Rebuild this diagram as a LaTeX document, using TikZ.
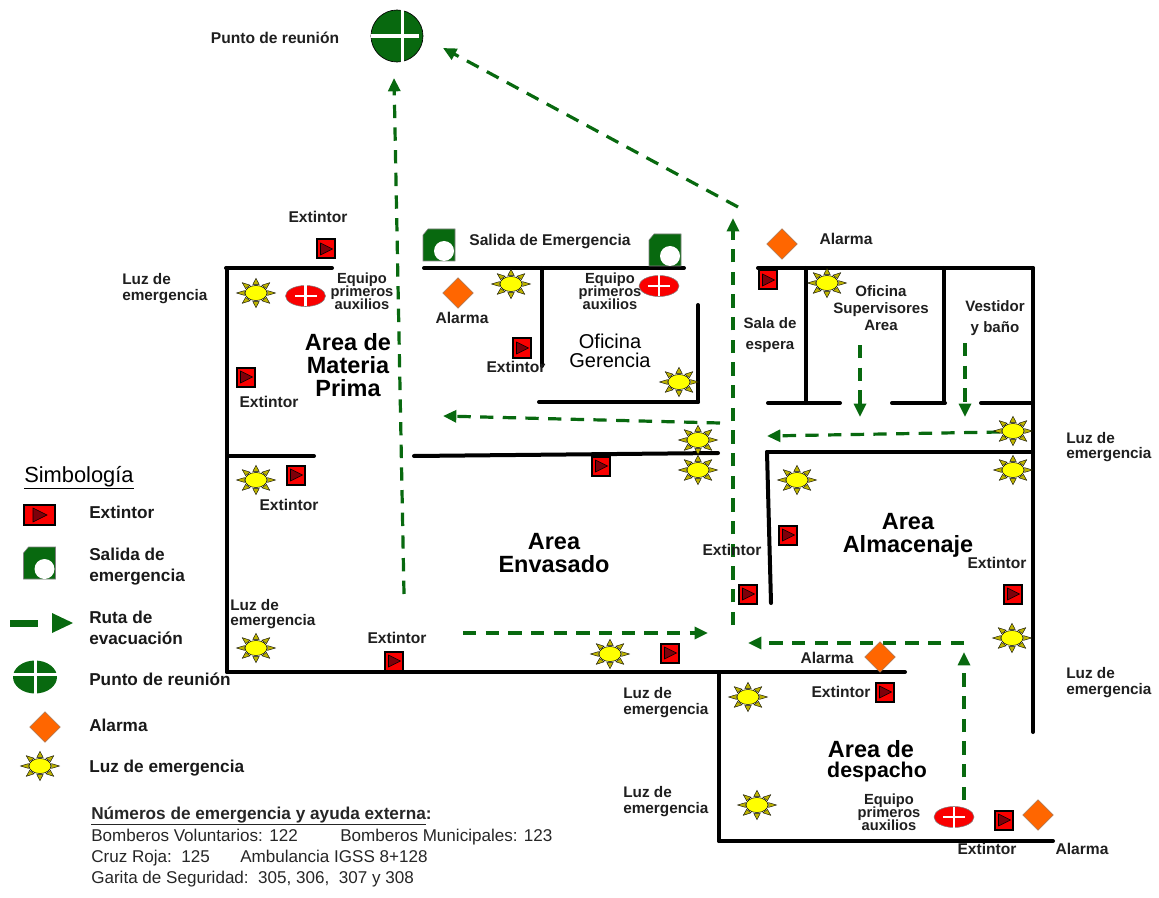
\documentclass[tikz,border=0pt]{standalone}
\usepackage{fontspec}
\setmainfont{Liberation Sans}
\usetikzlibrary{arrows.meta,shapes.geometric}
\definecolor{rg}{RGB}{8,105,15}
\definecolor{rd}{RGB}{250,0,0}
\definecolor{drd}{RGB}{125,0,10}
\definecolor{og}{RGB}{255,102,0}
\definecolor{ye}{RGB}{255,255,0}
\definecolor{ol}{RGB}{190,180,0}
\newcommand{\fsz}[1]{\fontsize{#1}{#1}\selectfont}
\tikzset{
 x=0.75pt,y=-0.75pt,
 wall/.style={line width=3pt,black,line cap=round},
 route/.style={line width=2.4pt,rg,dash pattern=on 10pt off 7pt,-{Triangle[length=10pt,width=9pt]}},
 lab/.style={inner sep=0,align=center,font=\fsz{11.7}\bfseries,text=black!88},
 luz/.style={inner sep=0,anchor=west,align=left,font=\fsz{11.5}\bfseries,text=black!88},
 leg/.style={inner sep=0,align=left,anchor=base west,font=\fsz{12.9}\bfseries,text=black!90},
 area/.style={inner sep=0,align=center,font=\fsz{17.6}\bfseries},
 num/.style={inner sep=0,anchor=base west,font=\fsz{12.8},text=black!85},
 pics/sun/.style={code={
   \begin{scope}[yscale=.75]
   \foreach \a in {0,45,...,315}{
     \fill[ol,draw=black,line width=.3pt,rotate=\a] (11.5,-3.2) -- (19.5,0) -- (11.5,3.2) -- cycle;}
   \end{scope}
   \fill[ye,draw=black,line width=.4pt] (0,0) ellipse (11 and 7.5);
 }},
 pics/ext/.style={code={
   \fill[rd,draw=black,line width=1.5pt] (-9,-9.5) rectangle (9,9.5);
   \fill[drd,draw=black,line width=.4pt] (-5.5,-6) -- (6.5,0) -- (-5.5,6) -- cycle;
 }},
 pics/exit/.style={code={
   \fill[rg,draw=gray,line width=.4pt] (-16,-10) -- (-11,-16) -- (16,-16) -- (16,16) -- (-16,16) -- cycle;
   \fill[white] (5,6) circle (10);
 }},
 alarm/.style={diamond,fill=og,draw=gray!70!og,line width=.3pt,minimum width=23pt,minimum height=23pt,inner sep=0,aspect=1},
 pics/aid/.style={code={
   \fill[rd,draw=gray,line width=.4pt] (0,0) ellipse (20 and 10.5);
   \fill[white] (-11,-1.3) rectangle (11,1.3);
   \fill[white] (-1.3,-10.5) rectangle (1.3,10.5);
 }},
}
\begin{document}
\begin{tikzpicture}
\useasboundingbox (0,0) rectangle (1159,898);
% walls
\draw[wall] (226,268) -- (332,268);
\draw[wall] (227,268) -- (227,672);
\draw[wall] (227,456) -- (314,456);
\draw[wall] (227,672) -- (905,672);
\draw[wall] (424,268) -- (684,268);
\draw[wall] (542,268) -- (542,366);
\draw[wall] (698,305) -- (698,402);
\draw[wall] (539,402) -- (698,402);
\draw[wall] (414,456) -- (718,453);
\draw[wall] (758,268) -- (1033,268);
\draw[wall] (806,268) -- (806,403);
\draw[wall] (768,403) -- (840,403);
\draw[wall] (892,403) -- (945,403);
\draw[wall] (944,268) -- (944,403);
\draw[wall] (981,403) -- (1033,403);
\draw[wall] (1033,268) -- (1033,732);
\draw[wall] (767,452) -- (1033,452);
\draw[wall] (767,452) -- (771,603);
\draw[wall] (719,672) -- (719,841);
\draw[wall] (719,841) -- (1053,841);
% routes
\draw[route] (404,594) -- (394,78);
\draw[route] (738,207) -- (443,48);
\draw[route] (720,423) -- (443,416);
\draw[route] (733,625) -- (733,218);
\draw[route] (1000,432) -- (767,436);
\draw[route] (860,345) -- (860,417);
\draw[route] (965,343) -- (965,417);
\draw[route] (463,633) -- (708,633);
\draw[route] (964,800) -- (964,652);
\draw[route] (964,643) -- (748,643);
% suns
\foreach \p in {(256,293),(511,284),(679,382),(698,440),(698,470),(827,283),(1013,431),(1013,470),(797,480),(256,480),(256,648),(610,654),(1012,638),(748,697),(757,805),(40,766)}
  \pic at \p {sun};
% extinguishers
\foreach \p in {(326,249),(246,377),(522,348),(296,475),(601,466),(394,661),(670,653),(748,594),(788,535),(768,280),(1013,594),(885,692),(1004,820)}
  \pic at \p {ext};
\fill[rd,draw=black,line width=1.5pt] (24,505) rectangle (55,525);
\fill[drd,draw=black,line width=.4pt] (33,508) -- (47,515) -- (33,522) -- cycle;
% exits
\pic at (439,245) {exit};
\pic at (665,250) {exit};
\pic at (39.5,563) {exit};
% alarms
\node[alarm] (al1) at (458,293) {};
\node[alarm] (al2) at (782,244) {};
\node[alarm] (al3) at (880,657) {};
\node[alarm] (al4) at (1038,815) {};
\node[alarm] (al5) at (45,727) {};
% first aid
\pic at (305.5,296) {aid};
\pic at (659,286) {aid};
\pic at (954,817) {aid};
% meeting point
\fill[rg,draw=black,line width=.5pt] (397,36) circle (26);
\fill[white] (400.5,9) rectangle (404,62);
\fill[white] (371,34.5) rectangle (419,38);
\fill[rg] (35,677) ellipse (22 and 16.5);
\fill[white] (33.5,660) rectangle (36.5,694);
\fill[white] (13,672.5) rectangle (57,675.5);
% legend route
\fill[rg] (10,620) rectangle (38,627);
\fill[rg] (52,613) -- (73,623) -- (52,633) -- cycle;
% area labels
\node[area] (a1) at (348,365) {Area de\\[-.35pt]Materia\\[-.35pt]Prima};
\node[area] (a2) at (554,553) {Area\\[-.35pt]Envasado};
\node[area] (a3) at (908,535) {Area\\[-.35pt]Almacenaje};
\node[area] (a4a) at (871,749) {Area de};
\node[area,font=\fsz{16}\bfseries] (a4b) at (877,772) {despacho};
\node[inner sep=0,align=center,font=\fsz{15}] (of) at (610,351) {Oficina\\[-.6pt]Gerencia};
% labels
\node[lab] (l1) at (318,217) {Extintor};
\node[luz] (l2) at (122,289) {Luz de\\[.5pt]emergencia};
\node[lab,font=\fsz{11}\bfseries] (l3) at (362,291) {Equipo\\[-1.3pt]primeros\\[-1.3pt]auxilios};
\node[lab,font=\fsz{11}\bfseries] (l4) at (610,291) {Equipo\\[-1.3pt]primeros\\[-1.3pt]auxilios};
\node[lab,font=\fsz{11}\bfseries] (l5) at (889,812) {Equipo\\[-1.3pt]primeros\\[-1.3pt]auxilios};
\node[lab] (l6) at (462,318) {Alarma};
\node[lab] (l7) at (516,367) {Extintor};
\node[lab] (l8) at (269,402) {Extintor};
\node[lab] (l9) at (289,505) {Extintor};
\node[lab] (l10) at (550,242) {Salida de Emergencia};
\node[lab] (l11) at (846,239) {Alarma};
\node[lab,font=\fsz{11.3}\bfseries] (l12) at (770,335) {Sala de\\[4.4pt]espera};
\node[lab,font=\fsz{11.3}\bfseries] (l13) at (881,308) {Oficina\\[1.4pt]Supervisores\\[1.4pt]Area};
\node[lab,font=\fsz{11.3}\bfseries] (l14) at (995,318) {Vestidor\\[4.4pt]y baño};
\node[luz] (l15) at (1066,447) {Luz de\\[-.2pt]emergencia};
\node[lab] (l16) at (732,550) {Extintor};
\node[lab] (l17) at (997,563) {Extintor};
\node[luz] (l18) at (230,614) {Luz de\\[-.2pt]emergencia};
\node[lab] (l19) at (397,638) {Extintor};
\node[lab] (l20) at (827,658) {Alarma};
\node[lab] (l21) at (841,692) {Extintor};
\node[luz] (l22) at (1066,683) {Luz de\\[.5pt]emergencia};
\node[luz] (l23) at (623,703) {Luz de\\[.5pt]emergencia};
\node[luz] (l24) at (623,802) {Luz de\\[.5pt]emergencia};
\node[lab] (l25) at (987,849) {Extintor};
\node[lab] (l26) at (1082,849) {Alarma};
\node[lab] (l27) at (275,38) {Punto de reunión};
% legend
\node[leg,font=\fsz{16.4},text=black] (s0) at (24,482) {\underline{Simbología}};
\node[leg] (s1) at (89,518) {Extintor};
\node[leg,anchor=west] (s2) at (89,566.5) {Salida de\\[2.4pt]emergencia};
\node[leg,anchor=west] (s3) at (89,628) {Ruta de\\[2.4pt]evacuación};
\node[leg] (s4) at (89,685) {Punto de reunión};
\node[leg] (s5) at (89,731) {Alarma};
\node[leg] (s6) at (89,772) {Luz de emergencia};
% numbers
\node[num,font=\fsz{12.9}\bfseries] (n0) at (91,819) {\underline{Números de emergencia y ayuda externa}:};
\node[num] (n1) at (91,841) {Bomberos Voluntarios: 122};
\node[num] (n2) at (340,841) {Bomberos Municipales: 123};
\node[num] (n3) at (91,862) {Cruz Roja:\ \ 125};
\node[num] (n4) at (240,862) {Ambulancia IGSS 8+128};
\node[num] (n5) at (91,883) {Garita de Seguridad:\ \ 305, 306,\ \ 307 y 308};
\end{tikzpicture}
\end{document}
